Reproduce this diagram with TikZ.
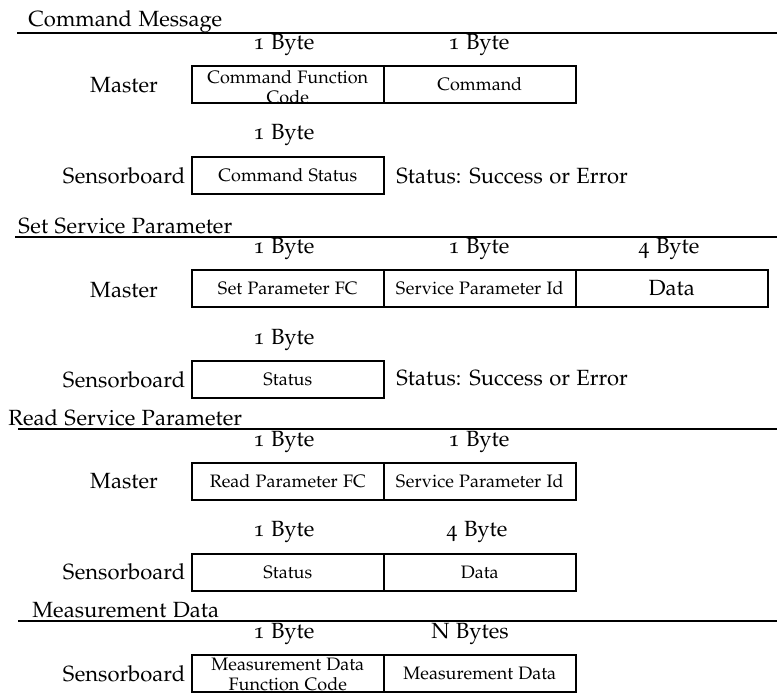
\documentclass[tikz,border=0pt]{standalone}
\usepackage[T1]{fontenc}
\usepackage[osf]{mathpazo}
\begin{document}
\begin{tikzpicture}[x=0.5pt,y=-0.5pt,
  lbl/.style={font=\fontsize{11}{13}\selectfont, inner sep=0pt, anchor=base},
  head/.style={lbl, anchor=base west},
  field/.style={draw, line width=0.8pt, minimum width=96pt, minimum height=18.5pt,
    inner sep=0pt, anchor=north west, font=\fontsize{9}{10}\selectfont, align=center},
  bigfield/.style={field, font=\fontsize{11}{13}\selectfont},
  celltext/.style={inner sep=0pt, yshift=-0.5pt, font=\fontsize{9}{10}\selectfont, align=center},
  sectionrule/.style={line width=0.8pt}]
\useasboundingbox (0,0) rectangle (777,693);

% --- Command Message ---
\node[head] (h1) at (28,26) {Command Message};
\draw[sectionrule] (17,33) -- (777,33);
\node[lbl] (b11) at (284,49) {1 Byte};
\node[lbl] (b12) at (479,49) {1 Byte};
\node[lbl] (m1) at (124,92) {Master};
\node[field] (c11) at (191,65) {};
\node[celltext, yshift=-0.8pt] (c11t) at (c11.center) {Command Function\\Code};
\node[field] (c12) at (383,65) {Command};
\node[lbl] (b13) at (284,139) {1 Byte};
\node[lbl] (s1) at (124,183) {Sensorboard};
\node[field] (c13) at (191,156) {Command Status};
\node[head] (st1) at (396,183) {Status: Success or Error};

% --- Set Service Parameter ---
\node[head] (h2) at (18,233) {Set Service Parameter};
\draw[sectionrule] (15,237) -- (777,237);
\node[lbl] (b21) at (284,253) {1 Byte};
\node[lbl] (b22) at (479,253) {1 Byte};
\node[lbl] (b23) at (669,253) {4 Byte};
\node[lbl] (m2) at (124,297) {Master};
\node[field] (c21) at (191,269) {Set Parameter FC};
\node[field] (c22) at (383,269) {Service Parameter Id};
\node[bigfield] (c23) at (575,269) {Data};
\node[lbl] (b24) at (284,344) {1 Byte};
\node[lbl] (s2) at (124,387) {Sensorboard};
\node[field] (c24) at (191,360) {Status};
\node[head] (st2) at (396,385) {Status: Success or Error};

% --- Read Service Parameter ---
\node[head] (h3) at (8,425) {Read Service Parameter};
\draw[sectionrule] (18,429) -- (777,429);
\node[lbl] (b31) at (284,446) {1 Byte};
\node[lbl] (b32) at (479,446) {1 Byte};
\node[lbl] (m3) at (124,488) {Master};
\node[field] (c31) at (191,462) {Read Parameter FC};
\node[field] (c32) at (383,462) {Service Parameter Id};
\node[lbl] (b33) at (284,536) {1 Byte};
\node[lbl] (b34) at (477,536) {4 Byte};
\node[lbl] (s3) at (124,579) {Sensorboard};
\node[field] (c33) at (191,553) {Status};
\node[field] (c34) at (383,553) {Data};

% --- Measurement Data ---
\node[head] (h4) at (32,617) {Measurement Data};
\draw[sectionrule] (18,621) -- (777,621);
\node[lbl] (b41) at (284,638) {1 Byte};
\node[lbl] (b42) at (470,638) {N Bytes};
\node[lbl] (s4) at (124,681) {Sensorboard};
\node[field] (c41) at (191,654) {};
\node[celltext] (c41t) at (c41.center) {Measurement Data\\Function Code};
\node[field] (c42) at (383,654) {Measurement Data};
\end{tikzpicture}
\end{document}
